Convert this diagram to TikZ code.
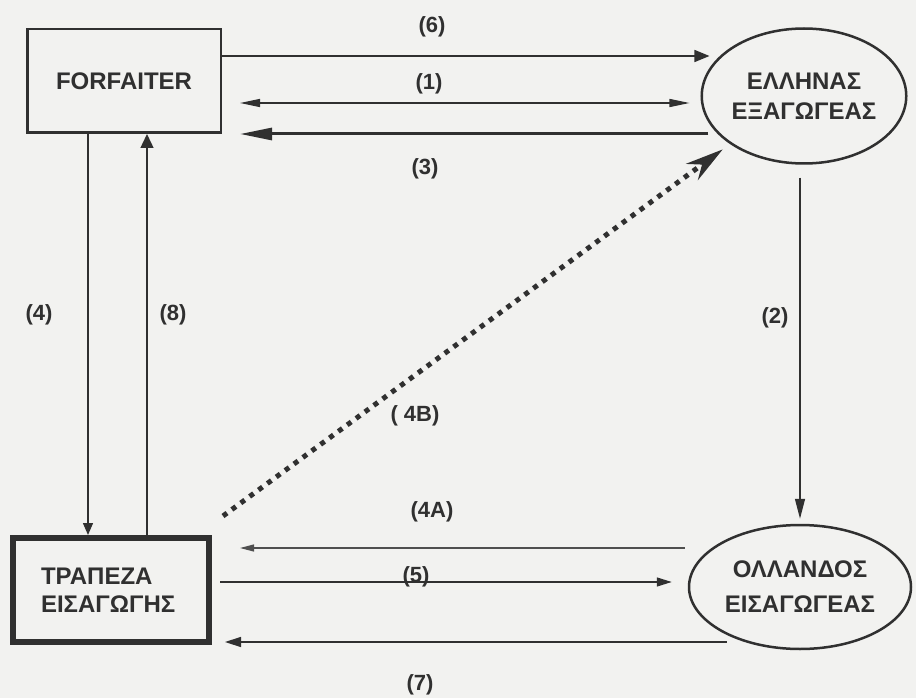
\documentclass[tikz,border=0pt]{standalone}
\usepackage{fontspec}
\setmainfont{Liberation Sans}
\usetikzlibrary{arrows.meta,shapes.geometric}
\definecolor{ink}{RGB}{48,48,48}
\definecolor{paper}{RGB}{242,242,240}
\begin{document}
\begin{tikzpicture}[x=1pt,y=-1pt,
  txt/.style={font=\bfseries\fontsize{24}{28}\selectfont, text=ink},
  lbl/.style={font=\bfseries\fontsize{22}{26}\selectfont, text=ink, inner sep=0pt},
  conn/.style={draw=ink, line width=1.4pt},
  thickconn/.style={draw=ink, line width=3pt},
  dotconn/.style={draw=ink, line width=5pt, dash pattern=on 5pt off 6pt},
  boxa/.style={draw=ink, line width=2.5pt, inner sep=0pt, txt},
  boxb/.style={draw=ink, line width=6pt, inner sep=0pt, txt},
  party/.style={ellipse, draw=ink, line width=2.5pt, inner sep=0pt, txt, align=center}
]
\fill[paper] (0,0) rectangle (916,698);
\useasboundingbox (0,0) rectangle (916,698);

% nodes
\node[boxa, minimum width=193.5pt, minimum height=103.5pt] (ff) at (124,81) {FORFAITER};
\node[party, minimum width=203pt, minimum height=135pt, font=\bfseries\fontsize{24}{30}\selectfont] (e1) at (804,96) {ΕΛΛΗΝΑΣ\\ΕΞΑΓΩΓΕΑΣ};
\node[party, minimum width=222pt, minimum height=124pt, font=\bfseries\fontsize{24}{35}\selectfont] (e2) at (800,587) {ΟΛΛΑΝΔΟΣ\\ΕΙΣΑΓΩΓΕΑΣ};
\node[boxb, minimum width=196pt, minimum height=104pt, text width=140pt, align=left, font=\bfseries\fontsize{24}{28}\selectfont] (tb) at (111,590) {ΤΡΑΠΕΖΑ\\ΕΙΣΑΓΩΓΗΣ};

% connectors
\draw[conn, -{Triangle[length=15pt,width=12pt]}] (ff.east |- 0,56) -- ([xshift=9pt]e1.west |- 0,56);
\draw[conn, {Triangle[length=20pt,width=8pt]}-{Triangle[length=20pt,width=8pt]}] ([xshift=18pt]ff.east |- 0,103) -- ([xshift=-11pt]e1.west |- 0,103);
\draw[thickconn, -{Triangle[length=32pt,width=12pt]}] ([xshift=8pt]e1.west |- 0,134) -- ([xshift=18pt]ff.east |- 0,134);
\draw[conn, -{Triangle[length=12pt,width=10pt]}] (ff.south -| 88,0) -- (tb.north -| 88,0);
\draw[conn, -{Triangle[length=14pt,width=13pt]}] (tb.north -| 147,0) -- (ff.south -| 147,0);
\draw[conn, -{Triangle[length=20pt,width=10pt]}] ([yshift=-13pt]e1.south -| 800,0) -- ([yshift=5pt]e2.north -| 800,0);
\draw[draw=ink!85, line width=1.2pt, -{Triangle[length=14pt,width=7pt]}] ([xshift=-3pt]e2.west |- 0,548) -- ([xshift=28pt]tb.east |- 0,548);
\draw[conn, -{Triangle[length=15pt,width=9pt]}] ([xshift=8pt]tb.east |- 0,582) -- ([xshift=-16pt]e2.west |- 0,582);
\draw[conn, -{Triangle[length=16pt,width=10pt]}] ([xshift=39pt]e2.west |- 0,642) -- ([xshift=13pt]tb.east |- 0,642);
\draw[dotconn, shorten >=9pt, -{Stealth[length=38pt,width=20pt]}] ([xshift=11pt,yshift=19pt]tb.north east) -- (e1.213);

% labels
\node[lbl] (l6) at (432,27) {(6)};
\node[lbl] (l1) at (429,84) {(1)};
\node[lbl] (l3) at (425,169) {(3)};
\node[lbl] (l4) at (39,315) {(4)};
\node[lbl] (l8) at (173,315) {(8)};
\node[lbl] (l2) at (775,318) {(2)};
\node[lbl] (l4b) at (415,416) {( 4B)};
\node[lbl] (l4a) at (432,512) {(4A)};
\node[lbl] (l5) at (416,577) {(5)};
\node[lbl] (l7) at (420,685) {(7)};
\end{tikzpicture}
\end{document}
